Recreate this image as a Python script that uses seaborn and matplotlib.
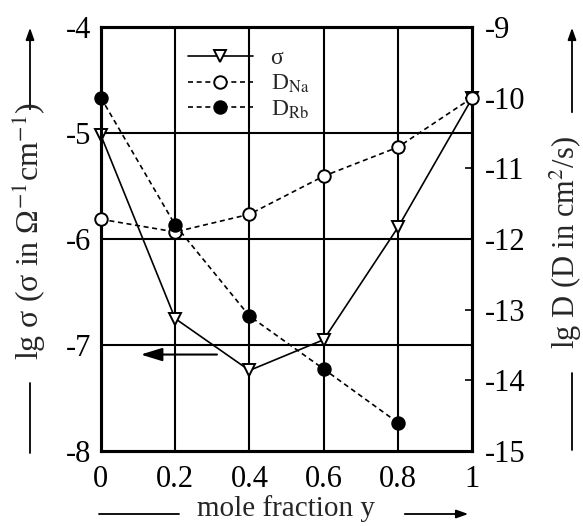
import matplotlib
matplotlib.use("Agg")
import matplotlib.pyplot as plt
import seaborn as sns
import pandas as pd
from matplotlib.lines import Line2D
from matplotlib.patches import FancyArrowPatch

# data
mole_fraction = [0.0, 0.2, 0.4, 0.6, 0.8, 1.0]
lg_sigma = [-5.02, -6.75, -7.24, -6.95, -5.89, -4.67]
lg_D_Na = [-11.72, -11.90, -11.65, -11.11, -10.70, -10.00]
mole_fraction_Rb = [0.0, 0.2, 0.4, 0.6, 0.8]
lg_D_Rb = [-10.00, -11.80, -13.09, -13.84, -14.60]
x_ticks = [0, 0.2, 0.4, 0.6, 0.8, 1]
x_tick_labels = ["0", "0.2", "0.4", "0.6", "0.8", "1"]
left_ticks = [-8, -7, -6, -5, -4]
right_ticks = [-15, -14, -13, -12, -11, -10, -9]

sns.set_style("white")
plt.rcParams["font.family"] = ["Liberation Serif", "DejaVu Serif"]
plt.rcParams["mathtext.fontset"] = "stix"
plt.rcParams["axes.unicode_minus"] = False

fig = plt.figure(figsize=(5.83, 5.26), dpi=100)
ax = fig.add_axes([0.173, 0.1426, 0.637, 0.806])
ax2 = ax.twinx()

df_s = pd.DataFrame({"x": mole_fraction, "y": lg_sigma})
df_na = pd.DataFrame({"x": mole_fraction, "y": lg_D_Na})
df_rb = pd.DataFrame({"x": mole_fraction_Rb, "y": lg_D_Rb})

lw = 1.2
ms = 9
dash = (0, (3, 2.2))
sns.lineplot(data=df_s, x="x", y="y", ax=ax, color="black", lw=lw, marker="v",
             markersize=ms, markerfacecolor="white", markeredgecolor="black",
             markeredgewidth=1.4, clip_on=False, zorder=5)
sns.lineplot(data=df_na, x="x", y="y", ax=ax2, color="black", lw=lw, ls=dash,
             marker="o", markersize=ms, markerfacecolor="white",
             markeredgecolor="black", markeredgewidth=1.4, clip_on=False, zorder=5)
sns.lineplot(data=df_rb, x="x", y="y", ax=ax2, color="black", lw=lw, ls=dash,
             marker="o", markersize=ms, markerfacecolor="black",
             markeredgecolor="black", markeredgewidth=1.4, clip_on=False, zorder=6)

ax.set_xlim(0, 1)
ax.set_ylim(-8, -4)
ax2.set_ylim(-15, -9)
ax.set_xticks(x_ticks)
ax.set_xticklabels(x_tick_labels)
ax.set_yticks(left_ticks)
ax2.set_yticks(right_ticks)
ax.set_xlabel("")
ax.set_ylabel("")
ax2.set_ylabel("")

for a in (ax, ax2):
    for s in a.spines.values():
        s.set_linewidth(2.2)
        s.set_color("black")
ax.tick_params(axis="y", length=0, labelsize=22, pad=7, colors="black")
ax.tick_params(axis="x", length=0, labelsize=22, pad=10, colors="black")
ax2.tick_params(axis="y", direction="in", length=5, width=1.2, labelsize=22, pad=9,
                colors="black")

# grid
ax.grid(False)
ax2.grid(False)
for xv in x_ticks[1:-1]:
    ax.axvline(xv, color="black", lw=1.5, zorder=1)
for yv in left_ticks[1:-1]:
    ax.axhline(yv, color="black", lw=1.5, zorder=1)

# legend
handles = [
    Line2D([], [], color="black", lw=lw, marker="v", markersize=ms,
           markerfacecolor="white", markeredgecolor="black", markeredgewidth=1.4),
    Line2D([], [], color="black", lw=lw, ls=dash, marker="o", markersize=ms,
           markerfacecolor="white", markeredgecolor="black", markeredgewidth=1.4),
    Line2D([], [], color="black", lw=lw, ls=dash, marker="o", markersize=ms,
           markerfacecolor="black", markeredgecolor="black", markeredgewidth=1.4),
]
labels = ["σ", "D$_{\\mathrm{Na}}$", "D$_{\\mathrm{Rb}}$"]
leg = ax2.legend(handles, labels, loc="upper left", bbox_to_anchor=(0.19, 0.99),
                 frameon=False, fontsize=17, handlelength=2.75, handletextpad=0.75,
                 labelspacing=0.15, borderpad=0.2)
leg.set_zorder(10)

# arrow inside the plot
ax.annotate("", xy=(0.1, -7.09), xytext=(0.32, -7.09),
            arrowprops=dict(arrowstyle="-|>,head_length=1.3,head_width=0.4",
                            color="black", lw=1.5))

# axis labels with arrows (figure pixels)
H = 526.0
def fy(p):
    return 1 - p / H
def fx(p):
    return p / 583.0

def arrow(p0, p1):
    fig.add_artist(FancyArrowPatch(p0, p1, transform=fig.transFigure,
                                   arrowstyle="-|>,head_length=7,head_width=2.5",
                                   color="black", lw=1.3))

fig.text(fx(29), fy(231), "lg σ (σ in Ω$^{-1}$cm$^{-1}$)", rotation=90,
         ha="center", va="center", fontsize=23)
fig.add_artist(Line2D([fx(30), fx(30)], [fy(453), fy(383)], color="black", lw=1.3))
arrow((fx(30), fy(112)), (fx(30), fy(25)))

fig.text(fx(566), fy(242), "lg D (D in cm$^2$/s)", rotation=90,
         ha="center", va="center", fontsize=22)
fig.add_artist(Line2D([fx(572), fx(572)], [fy(450), fy(373)], color="black", lw=1.3))
arrow((fx(572), fy(115)), (fx(572), fy(25)))

fig.text(fx(286), fy(509), "mole fraction y", ha="center", va="center", fontsize=21)
fig.add_artist(Line2D([fx(99), fx(179)], [fy(514), fy(514)], color="black", lw=1.3))
arrow((fx(402), fy(514)), (fx(471), fy(514)))

fig.savefig("out.png", dpi=100)
